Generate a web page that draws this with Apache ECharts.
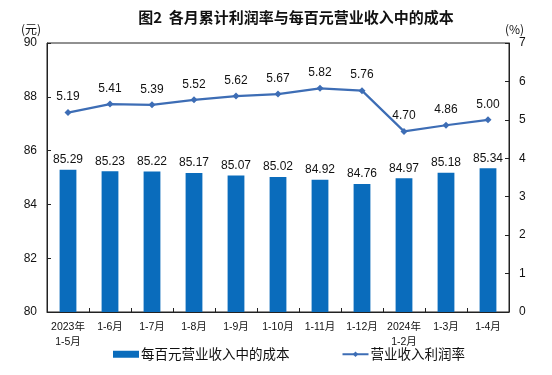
<!DOCTYPE html>
<html><head><meta charset="utf-8">
<script src="https://cdn.jsdelivr.net/npm/echarts@6/dist/echarts.min.js"></script>
<style>html,body{margin:0;padding:0;background:#fff}#c{width:552px;height:375px}</style>
</head><body><div id="c"></div>
<script>
var categories = ['2023年\n1-5月','1-6月','1-7月','1-8月','1-9月','1-10月','1-11月','1-12月','2024年\n1-2月','1-3月','1-4月'];
var costPer100 = [85.29,85.23,85.22,85.17,85.07,85.02,84.92,84.76,84.97,85.18,85.34];
var profitRate = [5.19,5.41,5.39,5.52,5.62,5.67,5.82,5.76,4.70,4.86,5.00];
var leftTicks = [80,90,2];
var rightTicks = [0,7,1];
var FONT = 'Liberation Sans, Arial, "Noto Sans CJK SC", sans-serif';
var chart = echarts.init(document.getElementById('c'));
chart.setOption({
  animation:false,
  title:{text:'图2  各月累计利润率与每百元营业收入中的成本', left:291, top:5, textAlign:'center',
    textStyle:{fontSize:15, fontWeight:'bold', color:'#111', fontFamily:'"Noto Sans CJK SC", sans-serif'}},
  legend:{bottom:9, left:108, itemGap:52, itemWidth:26, itemHeight:7,
    textStyle:{fontSize:13.5, color:'#111', padding:[0,0,0,-3], fontFamily:'"Noto Sans CJK SC", sans-serif'},
    data:[{name:'每百元营业收入中的成本', icon:'rect'},{name:'营业收入利润率'}]},
  grid:{left:47, right:43, top:43, bottom:63, show:true, borderColor:'#222', borderWidth:1},
  xAxis:{type:'category', data:categories,
    axisLine:{lineStyle:{color:'#222'}},
    axisTick:{show:true, inside:true, length:4, lineStyle:{color:'#222'}},
    axisLabel:{fontSize:10.5, color:'#111', lineHeight:15, interval:0, margin:8, fontFamily:FONT}},
  yAxis:[
    {type:'value', name:'(元)', nameLocation:'end', nameGap:8, nameTextStyle:{color:'#111', fontSize:12, align:'right', padding:[0,6,0,0], fontFamily:'"Noto Sans CJK SC", sans-serif'},
     min:leftTicks[0], max:leftTicks[1], interval:leftTicks[2], splitLine:{show:false},
     axisLine:{show:true, lineStyle:{color:'#222'}}, axisTick:{show:true, inside:true, length:4, lineStyle:{color:'#222'}},
     axisLabel:{fontSize:12, color:'#111', margin:10, fontFamily:FONT}},
    {type:'value', name:'(%)', nameLocation:'end', nameGap:8, nameTextStyle:{color:'#111', fontSize:12, align:'left', padding:[0,0,0,-4], fontFamily:'"Noto Sans CJK SC", sans-serif'},
     min:rightTicks[0], max:rightTicks[1], interval:rightTicks[2], splitLine:{show:false},
     axisLine:{show:true, lineStyle:{color:'#222'}}, axisTick:{show:true, inside:true, length:4, lineStyle:{color:'#222'}},
     axisLabel:{fontSize:12, color:'#111', margin:10, fontFamily:FONT}}
  ],
  series:[
    {name:'每百元营业收入中的成本', type:'bar', data:costPer100, barWidth:'40%', yAxisIndex:0,
     itemStyle:{color:'#0a6cbc'},
     label:{show:true, position:'top', fontSize:12, color:'#111', distance:4, fontFamily:FONT, formatter:function(p){return p.value.toFixed(2);}}},
    {name:'营业收入利润率', type:'line', data:profitRate, yAxisIndex:1,
     symbol:'diamond', symbolSize:7, lineStyle:{color:'#3d6db5', width:2.2}, itemStyle:{color:'#3d6db5'},
     label:{show:true, position:'top', fontSize:12, color:'#111', distance:6, fontFamily:FONT, formatter:function(p){return p.value.toFixed(2);}}}
  ]
});
</script></body></html>
